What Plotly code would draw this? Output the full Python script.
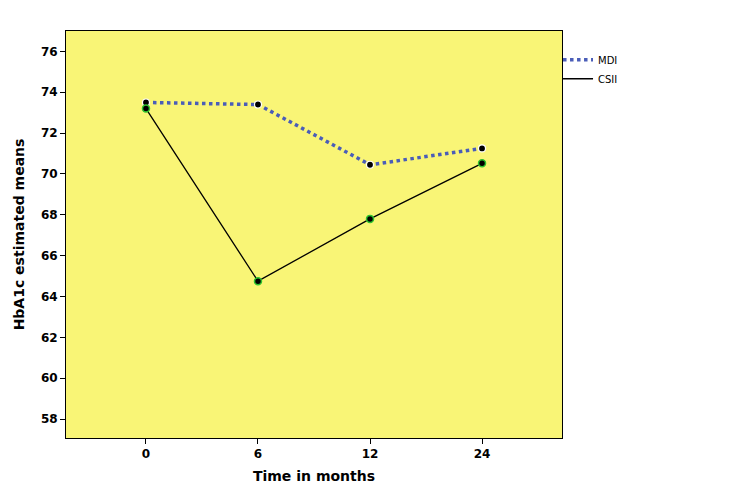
import plotly.graph_objects as go

categories = ["0", "6", "12", "24"]
mdi_values = [73.5, 73.4, 70.45, 71.25]
csii_values = [73.2, 64.75, 67.8, 70.52]
y_ticks = [58, 60, 62, 64, 66, 68, 70, 72, 74, 76]

x_idx = list(range(len(categories)))

fig = go.Figure()
fig.add_trace(go.Scatter(
    x=x_idx, y=mdi_values, mode="lines", name="MDI",
    line=dict(color="#4a5db8", width=3.5, dash="dot"),
))
fig.add_trace(go.Scatter(
    x=x_idx, y=csii_values, mode="lines", name="CSII",
    line=dict(color="black", width=1.3),
))
fig.add_trace(go.Scatter(
    x=x_idx, y=mdi_values, mode="markers", showlegend=False,
    marker=dict(color="black", size=7, line=dict(color="white", width=1.2)),
))
fig.add_trace(go.Scatter(
    x=x_idx, y=csii_values, mode="markers", showlegend=False,
    marker=dict(color="black", size=7, line=dict(color="#2fc42f", width=1.5)),
))

fig.update_layout(
    width=743, height=493,
    margin=dict(l=58, r=189, t=23, b=63),
    paper_bgcolor="white",
    plot_bgcolor="#f9f576",
    font=dict(family="DejaVu Sans", color="black"),
    showlegend=True,
    legend=dict(x=0.992, y=0.965, xanchor="left", yanchor="top",
                font=dict(size=10, family="DejaVu Sans"),
                bgcolor="rgba(0,0,0,0)", tracegroupgap=0,
                itemwidth=30),
    xaxis=dict(
        range=[-0.714, 3.714], tickmode="array", tickvals=x_idx, ticktext=categories,
        showgrid=False, zeroline=False, showline=True, linecolor="black", linewidth=1,
        mirror=True, ticks="outside", ticklen=5, tickcolor="black",
        tickfont=dict(size=12, family="DejaVu Sans", weight="bold"),
        title=dict(text="<b>Time in months</b>", font=dict(size=14), standoff=10),
    ),
    yaxis=dict(
        range=[57.07, 77.0], tickmode="array", tickvals=y_ticks,
        showgrid=False, zeroline=False, showline=True, linecolor="black", linewidth=1,
        mirror=True, ticks="outside", ticklen=5, tickcolor="black",
        tickfont=dict(size=12, family="DejaVu Sans", weight="bold"),
        title=dict(text="<b>HbA1c estimated means</b>", font=dict(size=14), standoff=12),
    ),
)

fig.write_html("out.html")
